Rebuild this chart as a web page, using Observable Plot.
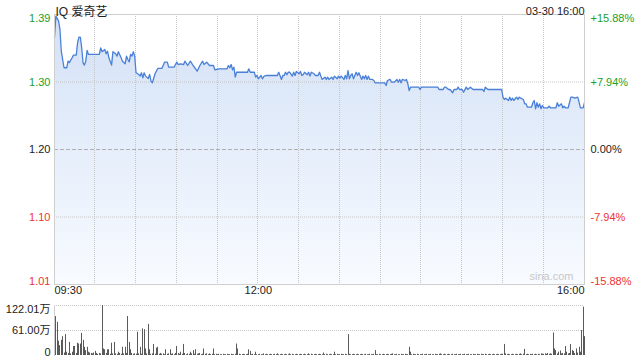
<!DOCTYPE html>
<html>
<head>
<meta charset="utf-8">
<script src="https://cdn.jsdelivr.net/npm/d3@7"></script>
<script src="https://cdn.jsdelivr.net/npm/@observablehq/plot@0.6"></script>
<style>
  html, body { margin: 0; padding: 0; background: #fff; }
  #chart svg { display: block; }
</style>
</head>
<body>
<div id="chart"></div>
<script>
// ---- data ----
const titleText = "IQ 爱奇艺";
const dateText = "03-30 16:00";
const prevClose = 1.20;
const yTicks = [1.3906, 1.2953, 1.20, 1.1047, 1.0094];
const yTickLabels = ["1.39", "1.30", "1.20", "1.10", "1.01"];
const pctLabels = ["+15.88%", "+7.94%", "0.00%", "-7.94%", "-15.88%"];
const xTickMinutes = [0, 150, 390];
const xTickLabels = ["09:30", "12:00", "16:00"];
const gridMinutes = [30, 60, 90, 120, 150, 180, 210, 240, 270, 300, 330, 360];
const volTicks = [122.01, 61.00, 0];
const volTickLabels = ["122.01万", "61.00万", "0"];
const watermark = "sina.com";

// minutes after 09:30, price
const pricePoints = [
  [0,1.3586],[1,1.3883],[3,1.3812],[4,1.3695],[5,1.3388],[7,1.3154],[9,1.3154],[10,1.3247],
  [11,1.3229],[13,1.3295],[14,1.3332],[16,1.3332],[17,1.3507],[18,1.3586],[19,1.3586],[20,1.3436],
  [21,1.3224],[22,1.3191],[23,1.3247],[24,1.3398],[25,1.3342],[33,1.3342],[34,1.3436],[35,1.3380],
  [37,1.3412],[38,1.3351],[39,1.3388],[40,1.3295],[42,1.3191],[43,1.3380],[45,1.3351],[46,1.3318],
  [47,1.3380],[49,1.3295],[50,1.3247],[52,1.3210],[53,1.3318],[54,1.3271],[55,1.3238],[56,1.3342],
  [57,1.3318],[58,1.3380],[59,1.3318],[60,1.3083],[62,1.3059],[63,1.3036],[64,1.3083],[65,1.3012],
  [66,1.3083],[67,1.3036],[69,1.3003],[70,1.3059],[71,1.2965],[72,1.2941],[74,1.3069],[76,1.3144],
  [79,1.3144],[81,1.3233],[83,1.3233],[84,1.3162],[88,1.3162],[90,1.3233],[91,1.3200],[93,1.3210],
  [95,1.3200],[96,1.3247],[98,1.3186],[100,1.3247],[102,1.3186],[105,1.3106],[107,1.3186],[109,1.3247],
  [110,1.3200],[112,1.3233],[114,1.3186],[117,1.3186],[118,1.3125],[121,1.3139],[127,1.3139],[128,1.3186],
  [129,1.3154],[130,1.3200],[131,1.3125],[132,1.3162],[133,1.3021],[134,1.3091],[142,1.3091],[143,1.3139],
  [144,1.3091],[147,1.3091],[148,1.3021],[149,1.3045],[150,1.2998],[152,1.3045],[153,1.2998],[154,1.3031],
  [156,1.3045],[164,1.3045],[165,1.3091],[167,1.2989],[168,1.3045],[169,1.3045],[170,1.3091],[171,1.3055],
  [172,1.3091],[173,1.3091],[175,1.3036],[176,1.3091],[177,1.3045],[178,1.3101],[180,1.3069],[181,1.3101],
  [182,1.3045],[183,1.3055],[184,1.3091],[186,1.3055],[187,1.3091],[188,1.3036],[189,1.3091],[191,1.3069],
  [192,1.3045],[194,1.3045],[195,1.3091],[196,1.3036],[197,1.2989],[199,1.3021],[200,1.2989],[201,1.3021],
  [202,1.2989],[204,1.3021],[205,1.2989],[206,1.3036],[208,1.2998],[209,1.3036],[210,1.3007],[211,1.3036],
  [213,1.2989],[214,1.3045],[215,1.2998],[216,1.3115],[217,1.2998],[218,1.3045],[219,1.3069],[220,1.2998],
  [222,1.3091],[223,1.3045],[224,1.3083],[226,1.2989],[227,1.3036],[228,1.2998],[229,1.3045],[230,1.2989],
  [231,1.3036],[232,1.2989],[234,1.2989],[235,1.2974],[236,1.2941],[243,1.2941],[244,1.2904],[245,1.2974],
  [247,1.2989],[248,1.2950],[250,1.2950],[252,1.2989],[253,1.2950],[254,1.2989],[255,1.2941],[256,1.2989],
  [258,1.2974],[259,1.2989],[260,1.2928],[261,1.2833],[262,1.2880],[268,1.2880],[269,1.2847],[270,1.2880],
  [282,1.2880],[283,1.2847],[286,1.2847],[287,1.2880],[288,1.2880],[290,1.2847],[291,1.2847],[293,1.2801],
  [294,1.2847],[296,1.2847],[297,1.2880],[298,1.2847],[300,1.2847],[301,1.2809],[303,1.2880],[304,1.2847],
  [306,1.2880],[308,1.2847],[315,1.2847],[316,1.2819],[317,1.2880],[319,1.2847],[329,1.2847],[330,1.2739],
  [331,1.2706],[332,1.2725],[334,1.2692],[335,1.2739],[336,1.2692],[337,1.2725],[338,1.2692],[340,1.2739],
  [341,1.2706],[342,1.2739],[343,1.2725],[345,1.2706],[346,1.2645],[347,1.2645],[348,1.2597],[351,1.2597],
  [352,1.2660],[353,1.2692],[354,1.2575],[355,1.2660],[356,1.2597],[357,1.2645],[358,1.2575],[359,1.2621],
  [360,1.2589],[363,1.2589],[364,1.2611],[365,1.2589],[369,1.2589],[370,1.2660],[371,1.2611],[373,1.2645],
  [374,1.2589],[375,1.2611],[376,1.2589],[378,1.2589],[380,1.2739],[381,1.2739],[383,1.2725],[385,1.2739],
  [386,1.2668],[387,1.2589],[389,1.2589],[390,1.2660]
];

// volume per minute (万), minutes 0..390
const volumes = [
  3,95,81,35,24,37,46,6,51,8,5,32,4,8,22,22,5,30,28,28,54,37,20,12,20,8,6,5,4,6,
  10,5,3,5,4,122,16,14,5,14,14,3,30,4,32,4,3,8,5,3,20,4,20,5,95,32,14,5,3,4,
  3,57,4,20,3,65,63,16,4,76,14,3,4,27,3,18,20,3,5,3,4,2,14,3,4,14,3,4,2,5,
  22,5,3,8,3,27,5,2,4,3,8,4,12,3,14,3,4,5,2,3,16,3,4,2,4,2,3,16,2,3,
  2,3,2,2,3,2,2,3,2,2,3,2,2,3,28,16,3,2,2,3,2,2,3,14,10,2,3,2,8,2,
  2,3,2,2,4,2,3,2,2,3,2,2,3,2,4,2,2,3,2,2,3,2,2,4,2,3,2,2,3,2,
  2,3,2,2,3,2,2,4,2,3,2,2,3,2,2,3,2,2,6,2,3,2,2,3,2,2,8,2,3,2,
  2,3,2,2,3,2,51,3,2,2,3,2,2,3,2,2,3,2,2,3,2,2,3,2,2,3,12,2,2,3,
  2,2,3,2,2,3,2,2,3,4,2,2,3,2,2,3,2,2,3,2,2,20,8,2,3,2,2,3,2,2,
  2,3,2,2,3,2,2,3,2,2,3,2,2,3,4,2,2,3,2,2,3,2,2,3,2,2,3,2,2,3,
  2,2,3,2,2,3,2,2,3,2,2,3,2,2,3,2,2,3,2,2,3,2,2,3,2,2,3,2,2,3,
  3,27,4,2,3,2,2,3,2,2,3,2,3,4,2,3,15,2,3,2,3,2,3,2,3,2,3,2,4,3,
  3,4,3,5,3,4,3,55,16,12,4,8,11,4,5,4,22,8,4,5,27,12,10,5,16,6,20,8,61,118,
  46
];

// ---- build ----
const FONT = "'Liberation Sans', Arial, 'Noto Sans CJK SC', sans-serif";
const GREEN = "#1ea01e";
const RED = "#f03232";
const GRID = "#c6c6c6";
const priceData = pricePoints.map(([m, p]) => ({m, p}));
const volData = volumes.map((v, m) => ({m, v}));
const ticks = yTicks.map((v, i) => ({v, label: yTickLabels[i], pct: pctLabels[i]}));
const tickColor = d => d.v > prevClose + 1e-9 ? GREEN : d.v < prevClose - 1e-9 ? RED : "#222";
const xt = xTickMinutes.map((m, i) => ({m, label: xTickLabels[i]}));

const leftLabel = (arr, lineAnchor) => Plot.text(arr, {y: "v", text: "label", frameAnchor: "left", textAnchor: "end", dx: -4, lineAnchor, fill: tickColor});
const rightLabel = (arr, lineAnchor) => Plot.text(arr, {y: "v", text: "pct", frameAnchor: "right", textAnchor: "start", dx: 6, lineAnchor, fill: tickColor});

const pricePlot = Plot.plot({
  width: 640, height: 300,
  marginTop: 14, marginBottom: 16, marginLeft: 54, marginRight: 56,
  x: {domain: [0, 390], axis: null},
  y: {domain: [yTicks[4], yTicks[0]], axis: null},
  color: {type: "identity"},
  style: {fontFamily: FONT, fontSize: "11px", background: "#fff", overflow: "visible"},
  marks: [
    Plot.areaY(priceData, {x: "m", y1: yTicks[4], y2: "p", fill: "url(#areaGrad)"}),
    Plot.ruleX(gridMinutes, {x: d => d, stroke: GRID, strokeDasharray: "1,1", className: "vgrid"}),
    Plot.ruleY([yTicks[1], yTicks[3]], {stroke: GRID, strokeDasharray: "1,1"}),
    Plot.ruleY([yTicks[2]], {stroke: "#b0b0b0", strokeDasharray: "4,2"}),
    Plot.lineY(priceData, {x: "m", y: "p", stroke: "#4a80d8", strokeWidth: 1.3}),
    Plot.frame({stroke: "#cfcfcf"}),
    leftLabel(ticks.slice(0, 1), "top"),
    leftLabel(ticks.slice(1, 4), "middle"),
    leftLabel(ticks.slice(4), "bottom"),
    rightLabel(ticks.slice(0, 1), "top"),
    rightLabel(ticks.slice(1, 4), "middle"),
    rightLabel(ticks.slice(4), "bottom"),
    Plot.text(xt.slice(0, 1), {x: "m", text: "label", frameAnchor: "bottom", textAnchor: "start", dy: 9, fill: "#222"}),
    Plot.text(xt.slice(1, 2), {x: "m", text: "label", frameAnchor: "bottom", textAnchor: "middle", dy: 9, fill: "#222"}),
    Plot.text(xt.slice(2), {x: "m", text: "label", frameAnchor: "bottom", textAnchor: "end", dy: 9, fill: "#222"}),
    Plot.text([watermark], {text: d => d, frameAnchor: "bottom-right", textAnchor: "end", dx: -11, dy: -5, fill: "#c8c8c8"}),
    Plot.text([titleText], {text: d => d, frameAnchor: "top-left", textAnchor: "start", dx: 1, dy: -7, fill: "#222", fontSize: 12}),
    Plot.text([dateText], {text: d => d, frameAnchor: "top-right", textAnchor: "end", dy: -7, fill: "#222"})
  ]
});

const svgSel = d3.select(pricePlot);
const grad = svgSel.insert("defs", ":first-child").append("linearGradient")
  .attr("id", "areaGrad").attr("x1", 0).attr("y1", 0).attr("x2", 0).attr("y2", 1);
grad.append("stop").attr("offset", 0).attr("stop-color", "#d3e1f6");
grad.append("stop").attr("offset", 1).attr("stop-color", "#f8fbff");

// crisp vertical grid lines (group already carries a 0.5px offset)
svgSel.selectAll(".vgrid line").each(function() {
  const r = Math.floor(+this.getAttribute("x1"));
  this.setAttribute("x1", r); this.setAttribute("x2", r);
});

const vt = volTicks.map((v, i) => ({v, label: volTickLabels[i]}));
const volLabel = (arr, lineAnchor) => Plot.text(arr, {y: "v", text: "label", frameAnchor: "left", textAnchor: "end", dx: -4, lineAnchor, fill: "#222"});

const volPlot = Plot.plot({
  width: 640, height: 60,
  marginTop: 5, marginBottom: 5, marginLeft: 54, marginRight: 56,
  x: {domain: [0, 390], axis: null, round: true},
  y: {domain: [0, volTicks[0]], axis: null},
  style: {fontFamily: FONT, fontSize: "11px", background: "#fff", overflow: "visible"},
  marks: [
    Plot.ruleY(volTicks.slice(0, 2), {stroke: GRID, strokeDasharray: "1,1"}),
    Plot.ruleX(volData, {x: "m", y1: 0, y2: "v", stroke: "#5a5a5a", strokeWidth: 1}),
    Plot.frame({anchor: "left", stroke: "#cfcfcf"}),
    volLabel(vt.slice(0, 1), "top"),
    volLabel(vt.slice(1, 2), "middle"),
    volLabel(vt.slice(2), "bottom")
  ]
});

document.getElementById("chart").append(pricePlot, volPlot);
</script>
</body>
</html>
